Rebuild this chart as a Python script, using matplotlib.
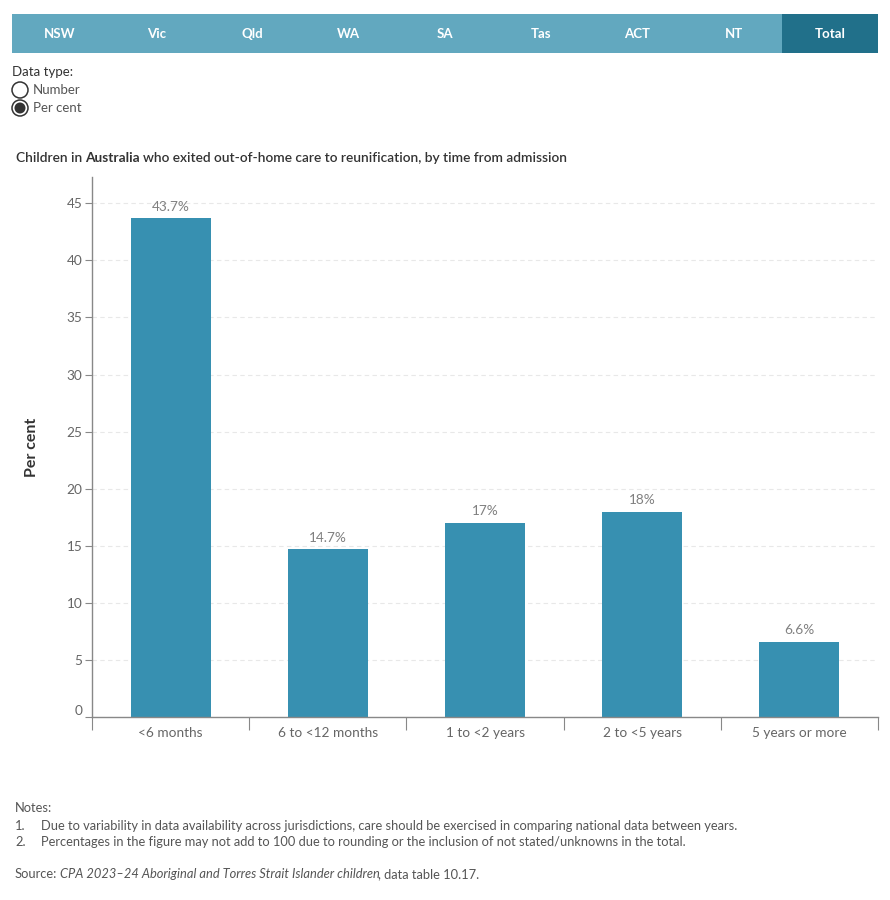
#!/usr/bin/env python3
"""Children in Australia who exited out-of-home care to reunification, by time from admission."""
import matplotlib

matplotlib.use("Agg")
import matplotlib.pyplot as plt
from matplotlib.patches import Rectangle, Circle

plt.rcParams["font.family"] = ["Lato", "DejaVu Sans"]

TABS = ["NSW", "Vic", "Qld", "WA", "SA", "Tas", "ACT", "NT", "Total"]
ACTIVE_TAB = "Total"
CATEGORIES = ["<6 months", "6 to <12 months", "1 to <2 years", "2 to <5 years", "5 years or more"]
PERCENT = [43.7, 14.7, 17.0, 18.0, 6.6]
LABELS = ["43.7%", "14.7%", "17%", "18%", "6.6%"]
YTICKS = [0, 5, 10, 15, 20, 25, 30, 35, 40, 45]

BAR = "#3790b1"
TAB_LIGHT = "#62a8bf"
TAB_DARK = "#21708a"
GREY = "#666666"

W, H = 890, 900
fig = plt.figure(figsize=(W / 100, H / 100), dpi=100)


def px(x, y):
    """pixel (from top-left) -> figure fraction"""
    return x / W, 1 - y / H


def chain(x, y, pieces, **kw):
    """Write pieces one after another on a line: (text, style, gap in px after it).
    Measured extents of spaces are unreliable, so gaps are given explicitly."""
    r = fig.canvas.get_renderer()
    cx = x
    for txt, style, gap in pieces:
        t = fig.text(*px(cx, y), txt, va="center", **kw, **style)
        cx += t.get_window_extent(r).width + gap


# tab strip
x0, x1, top, bot = 12, 878, 14, 53
tw = (x1 - x0) / len(TABS)
for i, t in enumerate(TABS):
    lx, ly = px(x0 + i * tw, bot)
    fig.patches.append(Rectangle((lx, ly), tw / W, (bot - top) / H, transform=fig.transFigure,
                                 color=TAB_DARK if t == ACTIVE_TAB else TAB_LIGHT, lw=0))
    cx, cy = px(x0 + (i + 0.5) * tw, (top + bot) / 2)
    fig.text(cx, cy, t, color="white", fontsize=9.5, fontweight="bold", ha="center", va="center")

# data type radio
fig.text(*px(12, 72), "Data type:", fontsize=9.5, color="#333333", va="center")
for i, (lab, on) in enumerate([("Number", False), ("Per cent", True)]):
    y = 90 + i * 18
    fig.patches.append(Circle((20, H - y), 8, transform=None, fc="white", ec="#333333", lw=1.1))
    if on:
        fig.patches.append(Circle((20, H - y), 5.5, transform=None, fc="#333333", ec="none"))
    fig.text(*px(33, y), lab, fontsize=9.5, color="#555555", va="center")

# title, "Australia" bold
chain(16, 158, [("Children in", {"fontweight": "semibold"}, 3),
                ("Australia", {"fontweight": "bold"}, 3),
                ("who exited out-of-home care to reunification, by time from admission",
                 {"fontweight": "semibold"}, 0)],
      fontsize=9.9, color="#333333")

# chart
ax_l, ax_r, ax_t, ax_b = 92, 878, 177, 717
ax = fig.add_axes([ax_l / W, 1 - ax_b / H, (ax_r - ax_l) / W, (ax_b - ax_t) / H])
xs = range(len(CATEGORIES))
ax.bar(xs, PERCENT, width=0.51, color=BAR, zorder=2)
for x, v, lab in zip(xs, PERCENT, LABELS):
    ax.annotate(lab, (x, v), xytext=(0, 4), textcoords="offset points", ha="center", va="bottom",
                fontsize=9.8, color="#808080")
ax.set_xlim(-0.5, len(CATEGORIES) - 0.5)
ax.set_ylim(0, 47.3)
ax.set_yticks(YTICKS)
ax.set_yticklabels([str(v) for v in YTICKS])
ax.set_xticks(list(xs))
ax.set_xticklabels(CATEGORIES)
ax.tick_params(axis="x", length=0, pad=7, labelsize=9.8, labelcolor=GREY)
ax.tick_params(axis="y", length=5, width=0.8, color="#888888", pad=2, labelsize=9.8, labelcolor=GREY)
# Tableau nudges the zero label up off the axis line
ax.get_yticklabels()[0].set_verticalalignment("bottom")
# boundary ticks between categories
ax.set_xticks([i - 0.5 for i in range(len(CATEGORIES) + 1)], minor=True)
ax.tick_params(axis="x", which="minor", length=9, width=0.8, color="#888888")
ax.yaxis.grid(True, ls=(0, (4, 3)), color="#e8e8e8", lw=0.8, zorder=0)
for s in ("top", "right"):
    ax.spines[s].set_visible(False)
for s in ("left", "bottom"):
    ax.spines[s].set_color("#888888")
    ax.spines[s].set_linewidth(1)
ax.set_ylabel("Per cent", fontsize=11.5, fontweight="bold", color="#333333", labelpad=20)

# notes
nc = "#555555"
fs = 9.3
fig.text(*px(15, 808), "Notes:", fontsize=fs, color=nc, va="center")
fig.text(*px(15, 826), "1.", fontsize=fs, color=nc, va="center")
fig.text(*px(41, 826), "Due to variability in data availability across jurisdictions, care should be "
         "exercised in comparing national data between years.", fontsize=fs, color=nc, va="center")
fig.text(*px(15, 842), "2.", fontsize=fs, color=nc, va="center")
fig.text(*px(41, 842), "Percentages in the figure may not add to 100 due to rounding or the inclusion "
         "of not stated/unknowns in the total.", fontsize=fs, color=nc, va="center")
chain(15, 874, [("Source:", {}, 3),
                ("CPA 2023\u201324 Aboriginal and Torres Strait Islander children", {"style": "italic"}, -2),
                (", data table 10.17.", {}, 0)],
      fontsize=fs, color=nc)

fig.savefig("out.png", dpi=100)
